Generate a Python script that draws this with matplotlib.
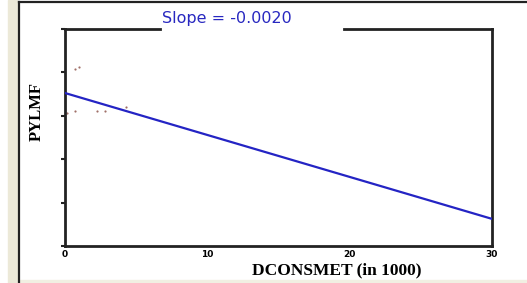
import matplotlib
matplotlib.use('Agg')
import matplotlib.pyplot as plt
from matplotlib.lines import Line2D
from matplotlib.patches import Rectangle

# data
x_points = [0.15, 0.70, 0.99, 0.70, 2.25, 2.82, 4.30]
y_points = [61.3, 81.6, 82.5, 62.2, 62.2, 62.2, 64.1]
fit_x = [0, 30]
fit_y = [70.5, 12.5]
x_ticks = [0, 10, 20, 30]
y_ticks = [0, 20, 40, 60, 80, 100]
slope_text = 'Slope = -0.0020'

W, H = 527, 283
fig = plt.figure(figsize=(W / 100, H / 100), dpi=100)
fig.patch.set_facecolor('white')

# window chrome from the screenshot
fig.add_artist(Rectangle((8 / W, 0), 9 / W, 1, transform=fig.transFigure,
                         color='#ece9d8', zorder=0))
fig.add_artist(Line2D([18.5 / W, 18.5 / W], [0, 1 - 2 / H], transform=fig.transFigure,
                      color='#222222', lw=1.6))
fig.add_artist(Line2D([18.5 / W, 1], [1 - 2 / H, 1 - 2 / H], transform=fig.transFigure,
                      color='#222222', lw=1.6))
fig.add_artist(Rectangle((18 / W, 0), 1 - 18 / W, 3 / H, transform=fig.transFigure,
                         color='#f1efe2', zorder=0))

left, right, top, bottom = 65, 492, 29, 246
ax = fig.add_axes([left / W, (H - bottom) / H, (right - left) / W, (bottom - top) / H])
ax.plot(fit_x, fit_y, color='#2424c4', lw=1.6, zorder=3)
ax.scatter(x_points, y_points, s=2.5, color='#a07068', zorder=2, linewidths=0)

ax.set_xlim(0, 30)
ax.set_ylim(0, 100)
ax.set_xticks(x_ticks)
ax.set_xticklabels([str(t) for t in x_ticks], fontsize=6.5, fontweight='bold',
                   family='DejaVu Sans')
ax.set_yticks(y_ticks)
ax.set_yticklabels([])
ax.tick_params(axis='y', direction='out', length=3, width=1.5, color='#222222')
ax.tick_params(axis='x', direction='out', length=0, pad=3)

for side in ['left', 'right', 'bottom']:
    ax.spines[side].set_linewidth(2)
    ax.spines[side].set_color('#222222')
ax.spines['top'].set_visible(False)

# top frame broken by the slope label
gap_l = (160 - left) / (right - left)
gap_r = (344 - left) / (right - left)
ax.plot([0, gap_l], [1, 1], transform=ax.transAxes, color='#222222', lw=2, clip_on=False)
ax.plot([gap_r, 1], [1, 1], transform=ax.transAxes, color='#222222', lw=2, clip_on=False)
fig.text(227 / W, 1 - 19 / H, slope_text, color='#2828c0', fontsize=11.5,
         family='DejaVu Sans', ha='center', va='center')

fig.text(37 / W, 1 - 112 / H, 'PYLMF', rotation=90, fontsize=12, fontweight='bold',
         family='Liberation Serif', ha='center', va='center')
fig.text(337 / W, 1 - 270 / H, 'DCONSMET (in 1000)', fontsize=12.5, fontweight='bold',
         family='Liberation Serif', ha='center', va='center')

fig.savefig('out.png', dpi=100)
